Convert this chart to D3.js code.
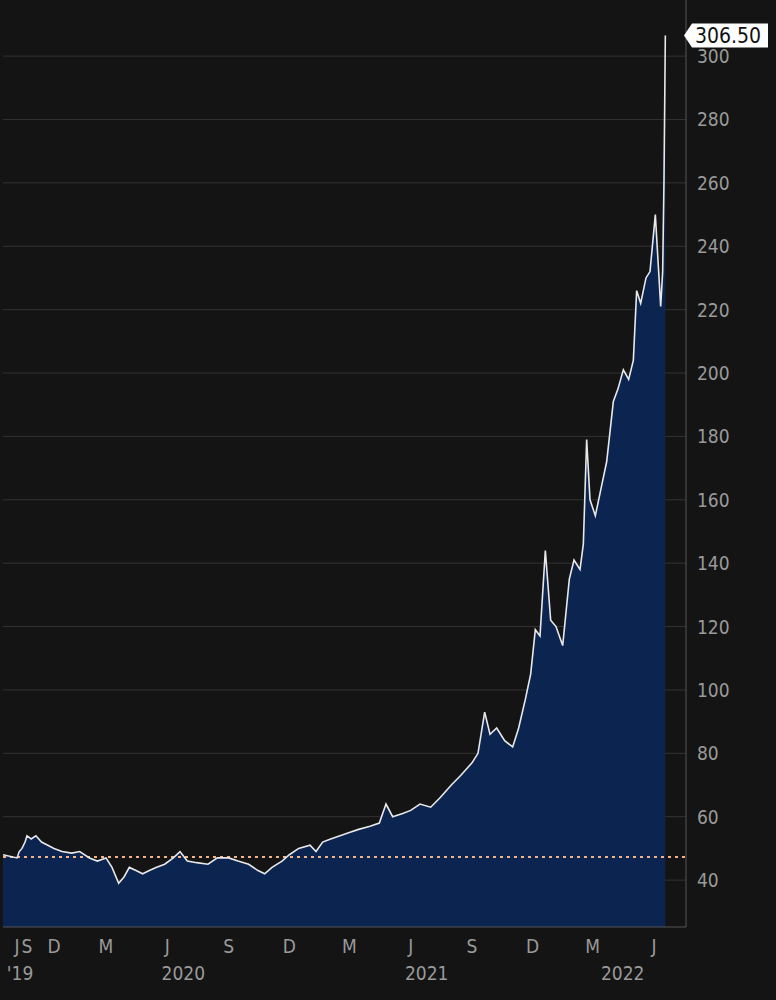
<!DOCTYPE html>
<html>
<head>
<meta charset="utf-8">
<script src="https://cdn.jsdelivr.net/npm/d3@7"></script>
<style>
  body { margin: 0; background: #141414; }
  text { font-family: "DejaVu Sans Condensed", "DejaVu Sans", sans-serif; }
</style>
</head>
<body>
<svg id="chart" width="776" height="1000"></svg>
<script>
// price series (date, close)
var dates = ["2019-06-15","2019-07-01","2019-07-15","2019-08-01","2019-08-20","2019-09-01","2019-09-15","2019-10-01","2019-10-20","2019-11-10",
  "2019-12-01","2019-12-15","2020-01-01","2020-01-15","2020-02-01","2020-02-15","2020-03-01","2020-03-10","2020-03-20","2020-03-28",
  "2020-04-05","2020-04-15","2020-04-25","2020-05-05","2020-05-15","2020-05-28","2020-06-10","2020-06-20","2020-07-01","2020-07-15",
  "2020-08-01","2020-08-15","2020-09-01","2020-09-15","2020-10-01","2020-10-15","2020-10-25","2020-11-05","2020-11-20","2020-12-01",
  "2020-12-15","2021-01-01","2021-01-10","2021-01-20","2021-02-01","2021-02-15","2021-03-01","2021-03-15","2021-04-01","2021-04-15",
  "2021-04-25","2021-05-05","2021-05-20","2021-06-01","2021-06-15","2021-07-01","2021-07-15","2021-08-01","2021-08-15","2021-09-01",
  "2021-09-10","2021-09-20","2021-09-28","2021-10-08","2021-10-20","2021-11-01","2021-11-10","2021-11-20","2021-11-28","2021-12-05",
  "2021-12-12","2021-12-20","2021-12-28","2022-01-05","2022-01-15","2022-01-25","2022-02-01","2022-02-10","2022-02-15","2022-02-20",
  "2022-02-25","2022-03-05","2022-03-15","2022-03-22","2022-04-01","2022-04-08","2022-04-16","2022-04-24","2022-05-01","2022-05-06",
  "2022-05-12","2022-05-20","2022-05-26","2022-06-03","2022-06-11","2022-06-14","2022-06-16","2022-06-18"];
var prices = [48,47,49,50,52,54,53,54,52,51,
  50,49,48.5,49,47,46,47,44,39,41,
  44,43,42,43,44,45,47,49,46,45.5,
  45,47,47,46,45,43,42,44,46,48,
  50,51,49,52,53,54,55,56,57,58,
  64,60,61,62,64,63,66,70,73,77,
  80,93,86,88,84,82,88,97,105,119,
  117,144,122,120,114,135,141,138,146,179,
  160,155,165,172,191,195,201,198,204,226,
  222,230,232,250,221,232,261,306.5];
var yTicks = [40,60,80,100,120,140,160,180,200,220,240,260,280,300];
var monthLabels = [["2019-07-01","J"],["2019-09-01","S"],["2019-12-01","D"],["2020-03-01","M"],["2020-06-01","J"],["2020-09-01","S"],
  ["2020-12-01","D"],["2021-03-01","M"],["2021-06-01","J"],["2021-09-01","S"],["2021-12-01","D"],["2022-03-01","M"],["2022-06-01","J"]];
var yearLabels = [["2019-07-20","'19"],["2020-06-25","2020"],["2021-06-25","2021"],["2022-04-15","2022"]];
var refLevel = 47.3;

var parse = d3.timeParse("%Y-%m-%d");
var data = dates.map(function(d, i) { return { date: parse(d), value: prices[i] }; });

var plotLeft = 3, plotRight = 686, plotTop = 0, plotBottom = 927;
var svg = d3.select("#chart");

// the early months are compressed on the source chart
var x = d3.scaleTime()
  .domain(["2019-06-15","2019-07-01","2019-09-01","2019-12-01","2020-03-01","2022-06-01"].map(parse))
  .range([plotLeft, 17, 27, 54, 106, 654]);
var y = d3.scaleLinear().domain([25.2, 317.7]).range([plotBottom, plotTop]);

svg.append("g").selectAll("line").data(yTicks).enter().append("line")
  .attr("x1", plotLeft).attr("x2", plotRight)
  .attr("y1", function(d) { return y(d); }).attr("y2", function(d) { return y(d); })
  .attr("stroke", "#333").attr("stroke-width", 1);

var area = d3.area().x(function(d) { return x(d.date); }).y0(plotBottom).y1(function(d) { return y(d.value); });
var line = d3.line().x(function(d) { return x(d.date); }).y(function(d) { return y(d.value); });

svg.append("path").datum(data).attr("d", area).attr("fill", "#0c2550");

svg.append("line").attr("x1", plotLeft).attr("x2", plotRight).attr("y1", y(refLevel)).attr("y2", y(refLevel))
  .attr("stroke", "#f0b38a").attr("stroke-width", 2).attr("stroke-dasharray", "3,4");

svg.append("path").datum(data).attr("d", line).attr("fill", "none")
  .attr("stroke", "#e8e8e8").attr("stroke-width", 1.6);

// frame
svg.append("line").attr("x1", plotRight).attr("x2", plotRight).attr("y1", plotTop).attr("y2", plotBottom).attr("stroke", "#555");
svg.append("line").attr("x1", plotLeft).attr("x2", plotRight).attr("y1", plotBottom).attr("y2", plotBottom).attr("stroke", "#555");

svg.append("g").selectAll("text").data(yTicks).enter().append("text")
  .attr("x", 697).attr("y", function(d) { return y(d) + 7; })
  .attr("fill", "#9a9a9a").attr("font-size", 19)
  .text(function(d) { return d; });

svg.append("g").selectAll("text").data(monthLabels).enter().append("text")
  .attr("x", function(d) { return x(parse(d[0])); }).attr("y", 953)
  .attr("text-anchor", "middle").attr("fill", "#9a9a9a").attr("font-size", 19)
  .text(function(d) { return d[1]; });

svg.append("g").selectAll("text").data(yearLabels).enter().append("text")
  .attr("x", function(d) { return x(parse(d[0])); }).attr("y", 980)
  .attr("text-anchor", "middle").attr("fill", "#9a9a9a").attr("font-size", 19)
  .text(function(d) { return d[1]; });

// last value tag
var last = data[data.length - 1];
var ty = y(last.value);
svg.append("path")
  .attr("d", "M" + (plotRight - 2) + "," + ty + " L" + (plotRight + 6) + "," + (ty - 12) + " L768," + (ty - 12) +
    " L768," + (ty + 12) + " L" + (plotRight + 6) + "," + (ty + 12) + " Z")
  .attr("fill", "#fff");
svg.append("text").attr("x", 728).attr("y", ty + 8).attr("text-anchor", "middle")
  .attr("fill", "#111").attr("font-size", 21).text(last.value.toFixed(2));
</script>
</body>
</html>
